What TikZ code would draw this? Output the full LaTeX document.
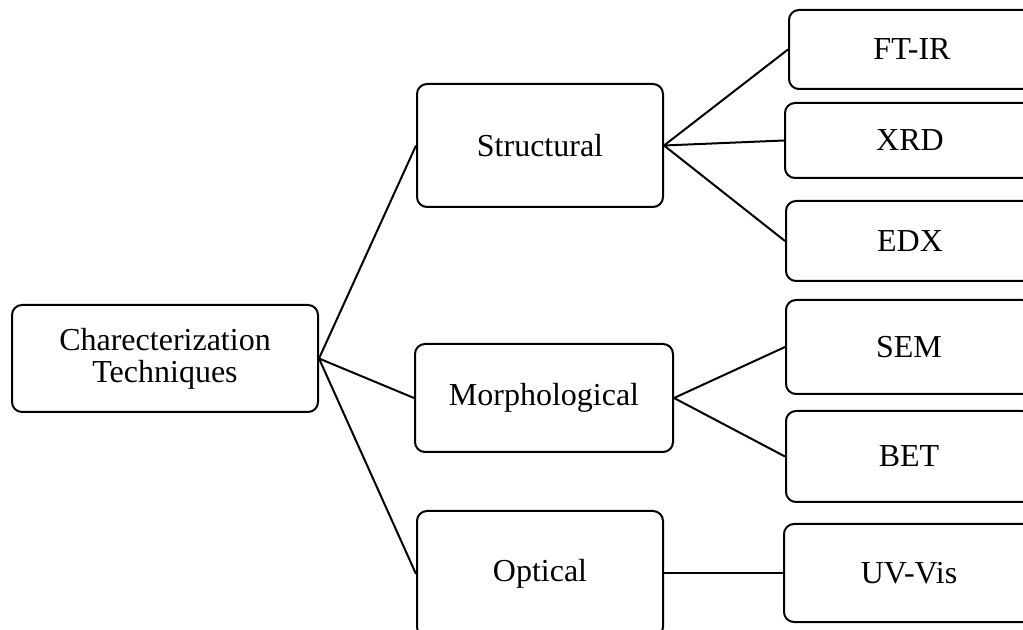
\documentclass[tikz,border=0pt]{standalone}
\usepackage{fontspec}
\setmainfont{Liberation Serif}
\usetikzlibrary{positioning}

\tikzset{
	box/.style={draw, rounded corners=5pt, line width=1pt, align=center, inner sep=0pt,
		font=\fontsize{16}{15.9}\selectfont},
	link/.style={line width=1pt}
}

\begin{document}
\begin{tikzpicture}[x=0.5pt, y=-0.5pt]
		\useasboundingbox (0,0) rectangle (1023,630);
		% root
		\node[box, minimum width=153pt, minimum height=53.5pt] (tech) at (165,358.5) {Charecterization\\Techniques};
		% groups
		\node[box, minimum width=123pt, minimum height=61.5pt] (struct) at (540,145.5) {Structural};
		\node[box, minimum width=129pt, minimum height=54pt] (morph) at (544,398) {Morphological};
		\node[box, minimum width=123pt, minimum height=63pt] (optic) at (540,574) {Optical};
		% methods
		\node[box, minimum width=123pt, minimum height=39.5pt] (ftir) at (912,49.5) {FT-IR};
		\node[box, minimum width=125pt, minimum height=37.5pt] (xrd) at (910,140.5) {XRD};
		\node[box, minimum width=124pt, minimum height=40pt] (edx) at (910,241) {EDX};
		\node[box, minimum width=123pt, minimum height=47pt] (sem) at (909,347) {SEM};
		\node[box, minimum width=123pt, minimum height=45.5pt] (bet) at (909,456.5) {BET};
		\node[box, minimum width=125pt, minimum height=49pt] (uvvis) at (909,573) {UV-Vis};
		% links
		\draw[link] (tech.east) -- (struct.west);
		\draw[link] (tech.east) -- (morph.west);
		\draw[link] (tech.east) -- (optic.west);
		\draw[link] (struct.east) -- (ftir.west);
		\draw[link] (struct.east) -- (xrd.west);
		\draw[link] (struct.east) -- (edx.west);
		\draw[link] (morph.east) -- (sem.west);
		\draw[link] (morph.east) -- (bet.west);
		\draw[link] (optic.east |- uvvis.west) -- (uvvis.west);
	\end{tikzpicture}
\end{document}
